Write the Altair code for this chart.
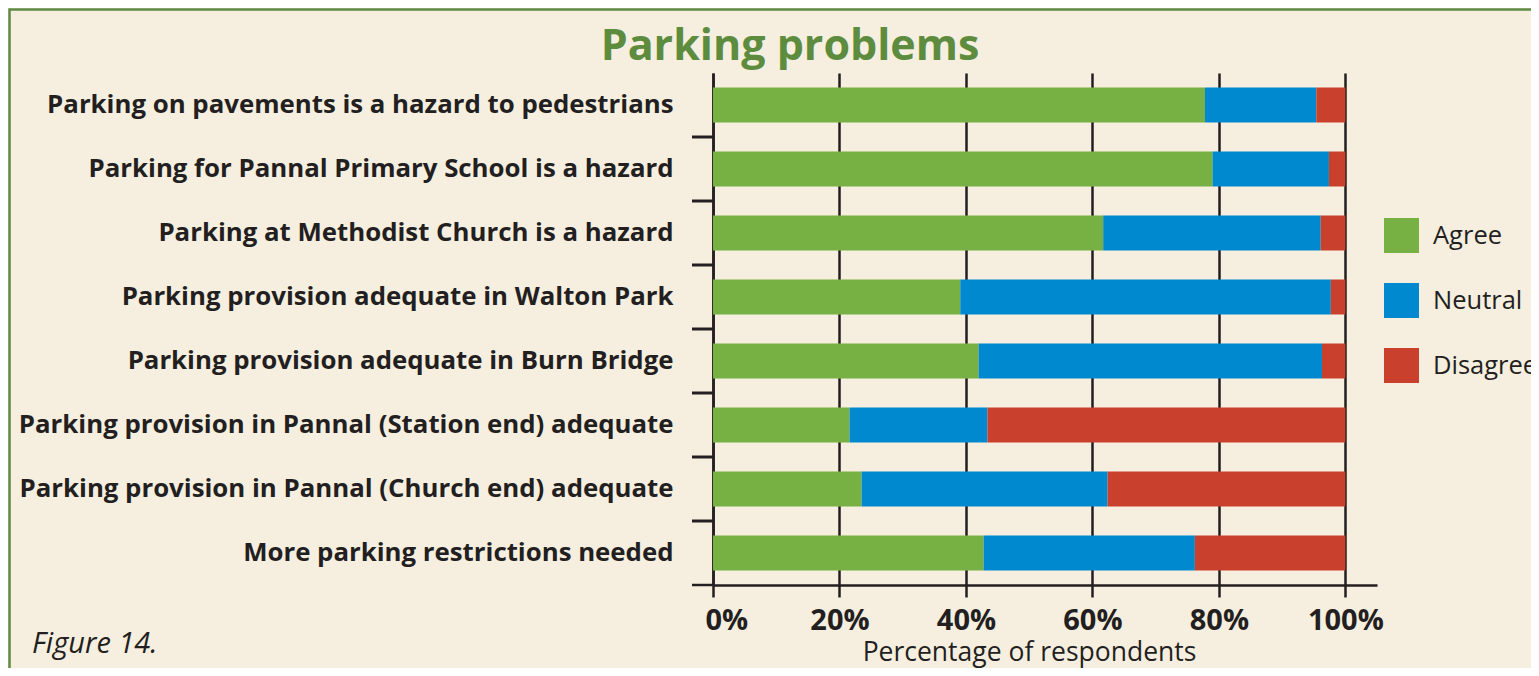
import altair as alt
import pandas as pd

categories = [
    "Parking on pavements is a hazard to pedestrians",
    "Parking for Pannal Primary School is a hazard",
    "Parking at Methodist Church is a hazard",
    "Parking provision adequate in Walton Park",
    "Parking provision adequate in Burn Bridge",
    "Parking provision in Pannal (Station end) adequate",
    "Parking provision in Pannal (Church end) adequate",
    "More parking restrictions needed",
]
agree = [77.8, 79.0, 61.7, 39.1, 42.0, 21.6, 23.5, 42.8]
neutral = [17.6, 18.4, 34.4, 58.6, 54.3, 21.8, 38.9, 33.4]
disagree = [4.6, 2.6, 3.9, 2.3, 3.7, 56.6, 37.6, 23.8]
responses = ["Agree", "Neutral", "Disagree"]
colors = ["#77b043", "#0089cf", "#c9412c"]
tick_values = [0, 20, 40, 60, 80, 100]

rows = []
for i, c in enumerate(categories):
    for j, (r, v) in enumerate(zip(responses, [agree[i], neutral[i], disagree[i]])):
        rows.append({"statement": c, "response": r, "pct": v, "order": j})
df = pd.DataFrame(rows)

INK = "#231f20"
FONT = "Open Sans"

y_axis = alt.Axis(
    title=None, ticks=False, domainColor=INK, domainWidth=2.5,
    labelFont=FONT, labelFontSize=25.8, labelFontWeight="bold",
    labelColor=INK, labelPadding=40, labelLimit=900, grid=False,
)
y_scale = alt.Scale(paddingInner=0, paddingOuter=0)

bars = alt.Chart(df).mark_bar(size=35).encode(
    y=alt.Y("statement:N", sort=categories, scale=y_scale, axis=y_axis),
    x=alt.X(
        "pct:Q",
        stack="zero",
        scale=alt.Scale(domain=[0, 105], nice=False),
        axis=alt.Axis(
            values=tick_values, labelExpr="datum.value + '%'",
            grid=True, gridColor=INK, gridWidth=2.5,
            domainColor=INK, domainWidth=2.5, tickColor=INK, tickWidth=2.5, tickSize=12,
            labelFont=FONT, labelFontSize=29, labelFontWeight="bold", labelColor=INK,
            labelPadding=9,
            labelOffset={"condition": {"test": "datum.value === 0", "value": -8}, "value": 0},
            title="Percentage of respondents", titleFont=FONT, titleFontSize=26.5,
            titleFontWeight="normal", titleColor=INK, titleX=316, titleY=75,
            titleBaseline="alphabetic",
        ),
    ),
    color=alt.Color(
        "response:N",
        scale=alt.Scale(domain=responses, range=colors),
        legend=alt.Legend(
            title=None, orient="none", legendX=671, legendY=145,
            symbolType="square", symbolSize=1225, symbolStrokeWidth=0, symbolOpacity=1,
            labelFont=FONT, labelFontSize=25.5, labelColor=INK, labelOffset=14,
            rowPadding=30, labelLimit=300,
        ),
    ),
    order=alt.Order("order:Q"),
)

# category separator ticks on the y axis (band boundaries between statements)
sep = alt.Chart(pd.DataFrame({"statement": categories[1:]})).mark_rule(
    color=INK, strokeWidth=3
).encode(
    y=alt.Y("statement:N", sort=categories, scale=y_scale, axis=y_axis, bandPosition=0),
    x=alt.value(-21), x2=alt.value(0),
)

frame = alt.Chart(pd.DataFrame({"f": [1]})).mark_rect(
    fill=None, stroke="#5f8b45", strokeWidth=2.5
).encode(
    x=alt.value(-703.5), x2=alt.value(3000), y=alt.value(-63.5), y2=alt.value(3000)
)

axis_ext = alt.Chart(pd.DataFrame({"f": [1]})).mark_rule(color=INK, strokeWidth=2.5).encode(
    x=alt.value(-21), x2=alt.value(0), y=alt.value(512)
)

title = alt.Chart(pd.DataFrame({"t": ["Parking problems"]})).mark_text(
    font=FONT, fontSize=43, fontWeight="bold", color="#5e8c3f",
    align="center", baseline="alphabetic",
).encode(text="t:N", x=alt.value(77), y=alt.value(-13))

fig = alt.Chart(pd.DataFrame({"t": ["Figure 14."]})).mark_text(
    font=FONT, fontSize=29, fontStyle="italic", color=INK,
    align="left", baseline="alphabetic",
).encode(text="t:N", x=alt.value(-681), y=alt.value(580))

chart = alt.layer(frame, bars, sep, axis_ext, title, fig).properties(
    width=664, height=512,
    padding={"left": 705, "top": 65, "right": 154, "bottom": 83},
    autosize=alt.AutoSizeParams(type="none"),
    background="#f6efe0",
).configure_view(stroke=None)

chart.save("out.html", embed_options={"renderer": "svg", "actions": False})
